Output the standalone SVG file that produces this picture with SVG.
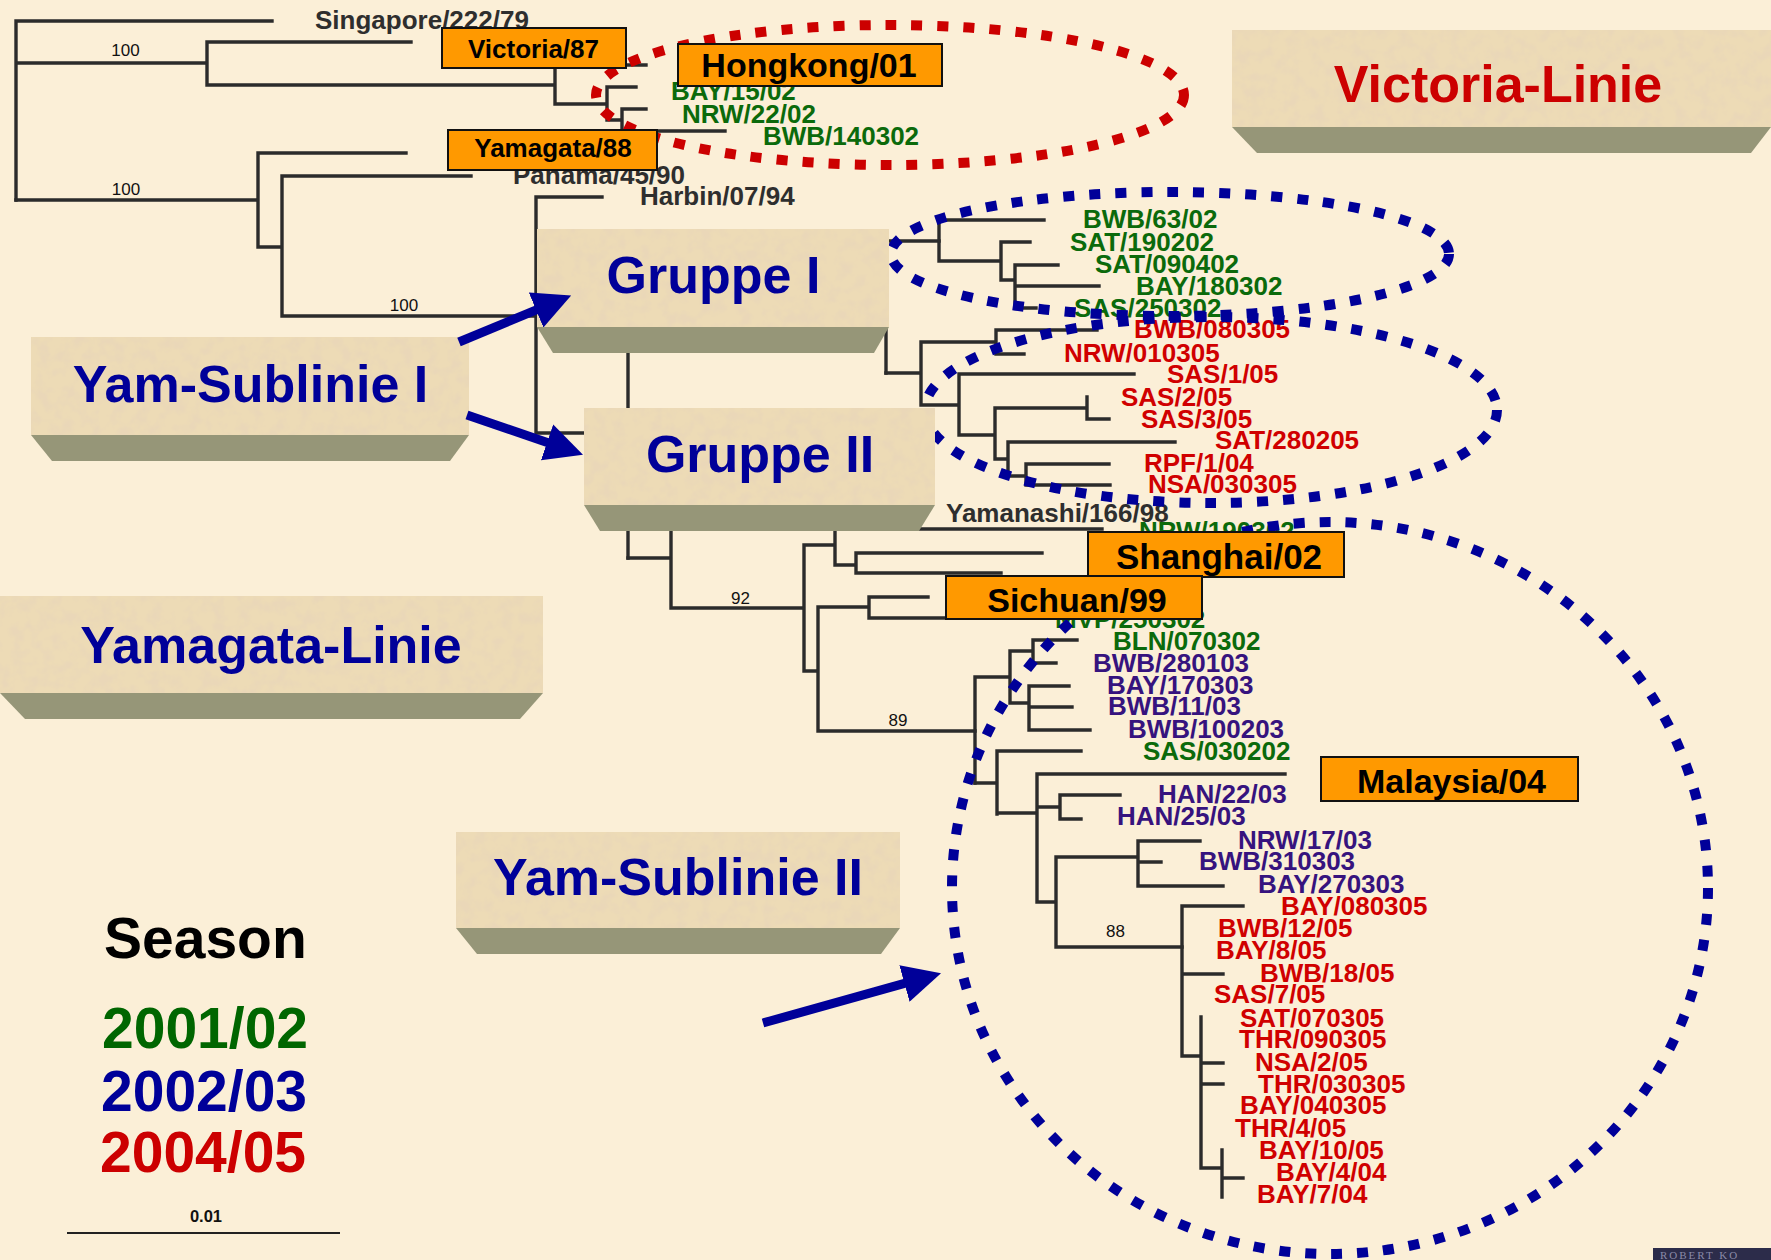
<svg xmlns="http://www.w3.org/2000/svg" width="1771" height="1260" viewBox="0 0 1771 1260">
<style>
.tree{fill:none;stroke:#2b2b2b;stroke-width:3.4;stroke-linecap:square}
.lbl{font-family:"Liberation Sans",Arial,sans-serif;font-weight:bold;font-size:26px}
.gray{fill:#2e2e2e}
.grn{fill:#0b6a0b}
.red{fill:#d00000}
.pur{fill:#36137e}
.boot{font-family:"Liberation Sans",Arial,sans-serif;font-size:17px;fill:#111;text-anchor:middle}
.ell{fill:none;stroke-width:10;stroke-dasharray:11 15}
.face{fill:#EDDBB6}
.bevel{fill:#969678}
.big{font-family:"Liberation Sans",Arial,sans-serif;font-weight:bold;font-size:52px;text-anchor:middle}
.ob{fill:#FF9900;stroke:#111;stroke-width:2}
.ot{font-family:"Liberation Sans",Arial,sans-serif;font-weight:bold;fill:#000;text-anchor:middle}
.arr{stroke:#000099;stroke-width:9;fill:none;marker-end:url(#ah)}
.leg{font-family:"Liberation Sans",Arial,sans-serif;font-weight:bold;font-size:57px}
</style>
<defs>
<marker id="ah" markerUnits="userSpaceOnUse" markerWidth="38" markerHeight="38" viewBox="0 0 38 38" refX="1" refY="19" orient="auto">
<path d="M0,0 L38,19 L0,38 Z" fill="#000099"/>
</marker>
<filter id="tex" x="0" y="0" width="1" height="1">
<feTurbulence type="fractalNoise" baseFrequency="0.08" numOctaves="3" seed="7"/>
<feColorMatrix type="matrix" values="0 0 0 0 0.82  0 0 0 0 0.68  0 0 0 0 0.48  0 0 0 3 -1.3"/>
<feComposite in2="SourceGraphic" operator="in"/>
</filter>
</defs>
<rect width="1771" height="1260" fill="#FBEFD7"/>

<g id="connectors" class="tree">
<path d="M16,21V200 M16,21H272 M16,63H207 M207,42V85 M207,42H411 M207,85H555 M555,65V104 M555,65H646 M555,104H607 M607,87V120 M607,87H636 M607,120H622 M622,109V131 M622,109H646 M622,131H725"/>
<path d="M16,200H258 M258,153V247 M258,153H406 M258,247H282 M282,176V316 M282,176H471 M282,316H536 M536,197V433 M536,197H602 M536,433H628 M628,300V558 M628,300H886 M886,241V373 M886,241H939"/>
<path d="M939,220V261 M939,220H1044 M939,261H1001 M1001,242V280 M1001,242H1030 M1001,280H1015 M1015,265V308 M1015,265H1058 M1015,286H1099 M1015,308H1036"/>
<path d="M886,373H921 M921,342V405 M921,342H996 M996,330V354 M996,330H1097 M996,354H1024 M921,405H959 M959,374V435 M959,374H1134 M959,435H995 M995,408V459 M995,408H1087 M1087,397V419 M1087,419H1109 M995,459H1008 M1008,442V476 M1008,442H1175 M1008,476H1026 M1026,464V485 M1026,464H1109 M1026,485H1110"/>
<path d="M628,558H671 M671,515V608 M671,515H700 M671,608H804 M804,545V671 M804,545H835 M835,529V565 M835,529H1102 M835,565H856 M856,553V573 M856,553H1042 M856,573H1001 M804,671H818 M818,607V731 M818,607H869 M869,597V618 M869,597H928 M869,618H1000 M818,731H975"/>
<path d="M975,677V783 M975,677H1010 M1010,651V703 M1010,651H1033 M1033,640V663 M1033,640H1077 M1033,663H1056 M1010,703H1029 M1029,686V730 M1029,686H1069 M1029,707H1072 M1029,730H1090"/>
<path d="M975,783H997 M997,751V814 M997,751H1081 M997,813H1037 M1037,774V902 M1037,774H1285 M1037,807H1060 M1060,795V819 M1060,795H1120 M1060,819H1081 M1037,902H1056 M1056,857V947 M1056,857H1138 M1138,841V886 M1138,841H1200 M1138,862H1161 M1138,886H1223 M1056,947H1182"/>
<path d="M1182,906V1056 M1182,906H1243 M1182,974H1223 M1182,1056H1201 M1201,1017V1168 M1201,1063H1223 M1201,1084H1223 M1201,1168H1222 M1222,1150V1197 M1222,1178H1243"/>
</g>

<g id="bootstrap">
<text class="boot" x="125.5" y="56">100</text>
<text class="boot" x="126" y="195">100</text>
<text class="boot" x="404" y="311">100</text>
<text class="boot" x="740.5" y="604">92</text>
<text class="boot" x="898" y="726">89</text>
<text class="boot" x="1115.5" y="937">88</text>
</g>

<g id="ref-labels" class="lbl gray">
<text x="315" y="29">Singapore/222/79</text>
<text x="513" y="184">Panama/45/90</text>
<text x="640" y="205">Harbin/07/94</text>
<text x="946" y="522">Yamanashi/166/98</text>
</g>
<g id="victoria-labels" class="lbl grn">
<text x="671" y="100">BAY/15/02</text>
<text x="682" y="123">NRW/22/02</text>
<text x="763" y="145">BWB/140302</text>
</g>
<g id="gruppe1-labels" class="lbl grn">
<text x="1083" y="228">BWB/63/02</text>
<text x="1070" y="251">SAT/190202</text>
<text x="1095" y="273">SAT/090402</text>
<text x="1136" y="295">BAY/180302</text>
<text x="1074" y="317">SAS/250302</text>
</g>
<g id="gruppe2-labels" class="lbl red">
<text x="1134" y="338">BWB/080305</text>
<text x="1064" y="362">NRW/010305</text>
<text x="1167" y="383">SAS/1/05</text>
<text x="1121" y="406">SAS/2/05</text>
<text x="1141" y="428">SAS/3/05</text>
<text x="1215" y="449">SAT/280205</text>
<text x="1144" y="472">RPF/1/04</text>
<text x="1148" y="493">NSA/030305</text>
</g>
<g id="sub2-labels" class="lbl">
<text class="grn" x="1139" y="540">NRW/190302</text>
<text class="grn" x="1055" y="628">MVP/250302</text>
<text class="grn" x="1113" y="650">BLN/070302</text>
<text class="pur" x="1093" y="672">BWB/280103</text>
<text class="pur" x="1107" y="694">BAY/170303</text>
<text class="pur" x="1108" y="715">BWB/11/03</text>
<text class="pur" x="1128" y="738">BWB/100203</text>
<text class="grn" x="1143" y="760">SAS/030202</text>
<text class="pur" x="1158" y="803">HAN/22/03</text>
<text class="pur" x="1117" y="825">HAN/25/03</text>
<text class="pur" x="1238" y="849">NRW/17/03</text>
<text class="pur" x="1199" y="870">BWB/310303</text>
<text class="pur" x="1258" y="893">BAY/270303</text>
<text class="red" x="1281" y="915">BAY/080305</text>
<text class="red" x="1218" y="937">BWB/12/05</text>
<text class="red" x="1216" y="959">BAY/8/05</text>
<text class="red" x="1260" y="982">BWB/18/05</text>
<text class="red" x="1214" y="1003">SAS/7/05</text>
<text class="red" x="1240" y="1027">SAT/070305</text>
<text class="red" x="1239" y="1048">THR/090305</text>
<text class="red" x="1255" y="1071">NSA/2/05</text>
<text class="red" x="1258" y="1093">THR/030305</text>
<text class="red" x="1240" y="1114">BAY/040305</text>
<text class="red" x="1235" y="1137">THR/4/05</text>
<text class="red" x="1259" y="1159">BAY/10/05</text>
<text class="red" x="1276" y="1181">BAY/4/04</text>
<text class="red" x="1257" y="1203">BAY/7/04</text>
</g>

<g id="ellipses">
<ellipse id="ell-victoria" class="ell" stroke="#cc0000" cx="890" cy="95" rx="294" ry="70"/>
<ellipse id="ell-gruppe1" class="ell" stroke="#000099" cx="1170" cy="254" rx="279" ry="62"/>
<ellipse id="ell-gruppe2" class="ell" stroke="#000099" cx="1211" cy="410" rx="286" ry="93"/>
<ellipse id="ell-sub2" class="ell" stroke="#000099" cx="1330" cy="888" rx="378" ry="366"/>
</g>

<g id="box-victoria-linie">
<rect class="face" x="1232" y="30" width="539" height="97"/>
<rect x="1232" y="30" width="539" height="97" filter="url(#tex)"/>
<polygon class="bevel" points="1232,127 1771,127 1751,153 1257,153"/>
<text class="big" x="1498" y="102" fill="#cc0000">Victoria-Linie</text>
</g>
<g id="box-gruppe1">
<rect class="face" x="537" y="229" width="352" height="98"/>
<rect x="537" y="229" width="352" height="98" filter="url(#tex)"/>
<polygon class="bevel" points="537,327 889,327 874,353 553,353"/>
<text class="big" x="713.5" y="293" fill="#000099">Gruppe I</text>
</g>
<g id="box-gruppe2">
<rect class="face" x="584" y="408" width="351" height="97"/>
<rect x="584" y="408" width="351" height="97" filter="url(#tex)"/>
<polygon class="bevel" points="584,505 935,505 919,531 600,531"/>
<text class="big" x="760" y="472" fill="#000099">Gruppe II</text>
</g>
<g id="box-yam-sub1">
<rect class="face" x="31" y="337" width="438" height="98"/>
<rect x="31" y="337" width="438" height="98" filter="url(#tex)"/>
<polygon class="bevel" points="31,435 469,435 450,461 52,461"/>
<text class="big" x="250.5" y="402" fill="#000099">Yam-Sublinie I</text>
</g>
<g id="box-yamagata-linie">
<rect class="face" x="0" y="596" width="543" height="97"/>
<rect x="0" y="596" width="543" height="97" filter="url(#tex)"/>
<polygon class="bevel" points="0,693 543,693 520,719 25,719"/>
<text class="big" x="271" y="663" fill="#000099">Yamagata-Linie</text>
</g>
<g id="box-yam-sub2">
<rect class="face" x="456" y="832" width="444" height="96"/>
<rect x="456" y="832" width="444" height="96" filter="url(#tex)"/>
<polygon class="bevel" points="456,928 900,928 881,954 477,954"/>
<text class="big" x="678" y="895" fill="#000099">Yam-Sublinie II</text>
</g>

<g id="tag-victoria87"><rect class="ob" x="442" y="28" width="184" height="40"/><text class="ot" x="533.5" y="58" font-size="26">Victoria/87</text></g>
<g id="tag-hongkong01"><rect class="ob" x="678" y="44" width="264" height="42"/><text class="ot" x="809" y="77" font-size="34">Hongkong/01</text></g>
<g id="tag-yamagata88"><rect class="ob" x="448" y="130" width="209" height="40"/><text class="ot" x="553" y="157" font-size="26">Yamagata/88</text></g>
<g id="tag-shanghai02"><rect class="ob" x="1088" y="532" width="256" height="45"/><text class="ot" x="1219" y="569" font-size="35">Shanghai/02</text></g>
<g id="tag-sichuan99"><rect class="ob" x="946" y="576" width="256" height="43"/><text class="ot" x="1077" y="612" font-size="34">Sichuan/99</text></g>
<g id="tag-malaysia04"><rect class="ob" x="1321" y="757" width="257" height="44"/><text class="ot" x="1451.5" y="793" font-size="34">Malaysia/04</text></g>

<g id="arrows">
<line class="arr" x1="459" y1="342" x2="537" y2="309.6"/>
<line class="arr" x1="467" y1="415" x2="548" y2="442.7"/>
<line class="arr" x1="763" y1="1023" x2="905.4" y2="983.2"/>
</g>

<g id="legend">
<text class="leg" x="104" y="958" fill="#000">Season</text>
<text class="leg" x="102" y="1048" fill="#006600">2001/02</text>
<text class="leg" x="101" y="1111" fill="#000099">2002/03</text>
<text class="leg" x="100" y="1172" fill="#cc0000">2004/05</text>
</g>
<g id="scalebar">
<line x1="67" y1="1233" x2="340" y2="1233" stroke="#222" stroke-width="2"/>
<text x="206" y="1222" font-family="Liberation Sans, Arial, sans-serif" font-weight="bold" font-size="16.5" text-anchor="middle" fill="#111">0.01</text>
</g>
<g id="watermark">
<rect x="1653" y="1248" width="118" height="12" fill="#2c2c4a"/>
<text x="1660" y="1259" font-family="Liberation Serif, serif" font-size="11" letter-spacing="2" fill="#8a8aa8">ROBERT KO</text>
</g>
</svg>
